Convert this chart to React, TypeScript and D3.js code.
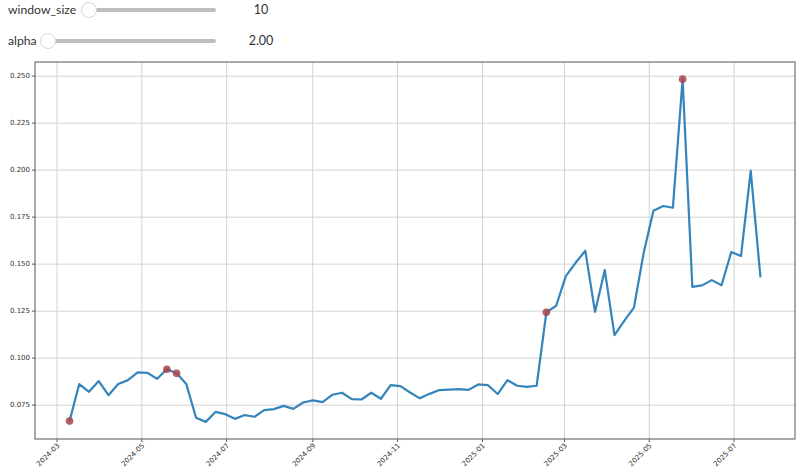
import React from 'react';
import * as d3 from 'd3';

// weekly series (Sundays)
const startDate = '2024-03-10';
const values = [
    0.0665, 0.0862, 0.0821, 0.0878, 0.0803, 0.0862, 0.0883, 0.0924, 0.0922, 0.0890,
    0.0941, 0.0919, 0.0862, 0.0683, 0.0661, 0.0714, 0.0702, 0.0677, 0.0697, 0.0688,
    0.0723, 0.0729, 0.0746, 0.0730, 0.0764, 0.0775, 0.0766, 0.0805, 0.0816, 0.0782,
    0.0780, 0.0816, 0.0784, 0.0856, 0.0851, 0.0817, 0.0786, 0.0810, 0.0830, 0.0833,
    0.0835, 0.0831, 0.0860, 0.0856, 0.0809, 0.0883, 0.0853, 0.0847, 0.0853, 0.1244,
    0.1278, 0.1436, 0.1507, 0.1571, 0.1246, 0.1468, 0.1122, 0.1198, 0.1269, 0.1560,
    0.1784, 0.1809, 0.1800, 0.2484, 0.1379, 0.1387, 0.1415, 0.1388, 0.1564, 0.1543,
    0.1996, 0.1430
];
const anomalyIndex = [0, 10, 11, 49, 63];
const yTicks = [0.075, 0.1, 0.125, 0.15, 0.175, 0.2, 0.225, 0.25];
const xTickLabels = ['2024-03', '2024-05', '2024-07', '2024-09', '2024-11', '2025-01', '2025-03', '2025-05', '2025-07'];

const sliders = [
    { label: 'window_size', value: '10', handleX: 89, labelY: 14 },
    { label: 'alpha', value: '2.00', handleX: 48, labelY: 45 }
];

const App = () => {
    const margin = { left: 35, right: 795, top: 62, bottom: 439 };
    const parse = d3.timeParse('%Y-%m-%d');
    const t0 = parse(startDate) as Date;
    const data = values.map((v, i) => ({ date: d3.timeDay.offset(t0, i * 7), value: v }));

    const ext = d3.extent(data, d => d.date) as [Date, Date];
    const span = +ext[1] - +ext[0];
    const x = d3.scaleTime()
        .domain([new Date(+ext[0] - span * 0.05), new Date(+ext[1] + span * 0.05)])
        .range([margin.left, margin.right]);
    const yMin = d3.min(values) as number;
    const yMax = d3.max(values) as number;
    const yPad = (yMax - yMin) * 0.05;
    const y = d3.scaleLinear().domain([yMin - yPad, yMax + yPad]).range([margin.bottom, margin.top]);

    const linePath = d3.line<{ date: Date, value: number }>().x(d => x(d.date)).y(d => y(d.value))(data);
    const xTicks = xTickLabels.map(s => parse(s + '-01') as Date);
    const uiFont = 'Lato, "Noto Sans", sans-serif';
    const tickFont = '"DejaVu Sans", sans-serif';

    return (
        <svg width={800} height={471} style={{ position: 'absolute', left: 0, top: 0 }}>
            <rect x={0} y={0} width={800} height={471} fill="#fff" />
            {sliders.map((s, i) => (
                <g key={i} fontFamily={uiFont}>
                    <text x={8} y={s.labelY} fontSize={12.2} fill="#333">{s.label}</text>
                    <rect x={s.handleX} y={s.labelY - 6} width={216 - s.handleX} height={4} rx={2} fill="#bdbdbd" />
                    <circle cx={s.handleX} cy={s.labelY - 4} r={7.5} fill="#fff" stroke="#d8d8d8" strokeWidth={1} />
                    <text x={261} y={s.labelY} fontSize={12.5} fill="#333" textAnchor="middle">{s.value}</text>
                </g>
            ))}

            <g>
                {xTicks.map((d, i) => (
                    <line key={'gx' + i} x1={x(d)} x2={x(d)} y1={margin.top} y2={margin.bottom} stroke="#d3d3d3" strokeWidth={1} />
                ))}
                {yTicks.map((v, i) => (
                    <line key={'gy' + i} x1={margin.left} x2={margin.right} y1={y(v)} y2={y(v)} stroke="#d3d3d3" strokeWidth={1} />
                ))}
            </g>

            <path d={linePath ?? ''} fill="none" stroke="#1f77b4" strokeOpacity={0.9} strokeWidth={2.2} strokeLinejoin="round" />
            {anomalyIndex.map(i => (
                <circle key={'a' + i} cx={x(data[i].date)} cy={y(data[i].value)} r={3.8} fill="#a8434a" fillOpacity={0.85} />
            ))}

            <rect x={margin.left} y={margin.top} width={margin.right - margin.left} height={margin.bottom - margin.top} fill="none" stroke="#555" strokeWidth={1} />

            <g fontFamily={tickFont}>
                {yTicks.map((v, i) => (
                    <g key={'ty' + i} transform={`translate(${margin.left},${y(v)})`}>
                        <line x1={-3} x2={0} stroke="#555" />
                        <text x={-5} dy="0.32em" fontSize={7} fill="#333" textAnchor="end">{v.toFixed(3)}</text>
                    </g>
                ))}
                {xTicks.map((d, i) => (
                    <g key={'tx' + i} transform={`translate(${x(d)},${margin.bottom})`}>
                        <line y2={3} stroke="#555" />
                        <text transform="translate(3,7) rotate(-45)" fontSize={7} fill="#333" textAnchor="end">{xTickLabels[i]}</text>
                    </g>
                ))}
            </g>
        </svg>
    );
};

export default App;
